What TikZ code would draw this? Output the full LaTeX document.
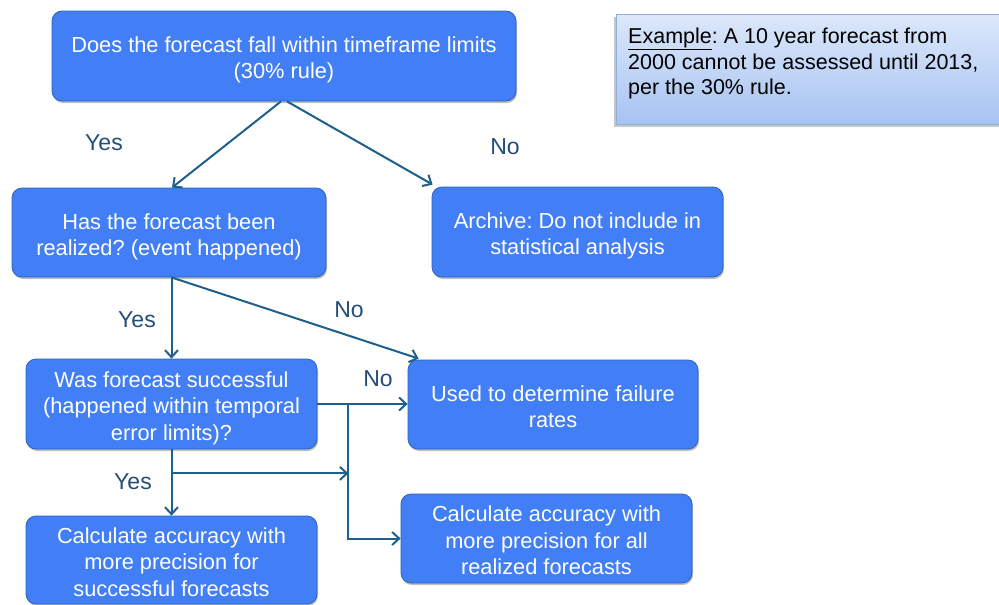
\documentclass[tikz,border=0pt]{standalone}
\usepackage{fontspec}
\setmainfont{Liberation Sans}
\usetikzlibrary{arrows.meta,shadows}
\frenchspacing
\definecolor{boxfill}{HTML}{427EF6}
\definecolor{boxdraw}{HTML}{2B65B8}
\definecolor{arrowcol}{HTML}{1F5F8E}
\definecolor{labelcol}{HTML}{234E7A}
\definecolor{extop}{HTML}{DCE8FB}
\definecolor{exbot}{HTML}{A7C3F1}
\definecolor{exdraw}{HTML}{8EAEDD}
\newcommand\bxtext[1]{\raisebox{-4.5pt}[\height][\depth]{\begin{tabular}{@{}c@{}}#1\end{tabular}}}
\tikzset{
  flowbox/.style={rectangle, rounded corners=10pt, fill=boxfill, draw=boxdraw, line width=0.8pt,
    text=white, align=center, inner sep=0pt,
    font=\fontsize{21.8}{26.3}\selectfont,
    drop shadow={shadow xshift=1pt, shadow yshift=-2pt, opacity=0.25, fill=black}},
  conn/.style={draw=arrowcol, line width=2pt, -{Straight Barb[length=7pt,width=13pt,line width=2pt]}},
  lbl/.style={text=labelcol, font=\fontsize{23}{27}\selectfont, inner sep=0pt}
}
\begin{document}
\begin{tikzpicture}[x=1pt,y=-1pt]
\useasboundingbox (0,0) rectangle (999,605);
\fill[white] (0,0) rectangle (999,605);

% example box
\fill[black, opacity=0.22] (614,17) rectangle (1010,127);
\shade[top color=extop, bottom color=exbot, draw=exdraw, line width=0.8pt] (616,14) rectangle (1010,124);
\node[anchor=north west, align=left, inner sep=0pt, font=\fontsize{21.5}{25.5}\selectfont] (ex) at (628,28)
  {\underline{Example}: A 10 year forecast from\\2000 cannot be assessed until 2013,\\per the 30\% rule.};

% boxes
\node[flowbox, minimum width=464pt, minimum height=90pt] (b1) at (284,56)
  {\bxtext{Does the forecast fall within timeframe limits\\(30\% rule)}};
\node[flowbox, minimum width=314pt, minimum height=89pt] (b2) at (169,232.5)
  {\bxtext{Has the forecast been\\realized? (event happened)}};
\node[flowbox, minimum width=291pt, minimum height=90pt] (b3) at (577.5,232)
  {\bxtext{Archive: Do not include in\\statistical analysis}};
\node[flowbox, minimum width=291pt, minimum height=90pt] (b4) at (171.5,404)
  {\bxtext{Was forecast successful\\(happened within temporal\\error limits)?}};
\node[flowbox, minimum width=290pt, minimum height=89pt] (b5) at (553,404.5)
  {\bxtext{Used to determine failure\\rates}};
\node[flowbox, minimum width=291pt, minimum height=88pt] (b6) at (171.5,560)
  {\bxtext{Calculate accuracy with\\more precision for\\successful forecasts}};
\node[flowbox, minimum width=291pt, minimum height=89pt] (b7) at (546.5,538.5)
  {\bxtext{Calculate accuracy with\\more precision for all\\realized forecasts}};

% connectors
\draw[conn] ([xshift=-3pt]b1.south) -- ([xshift=3pt]b2.north);
\draw[conn] ([xshift=3pt]b1.south) -- ([xshift=1pt,yshift=2pt]b3.north west);
\coordinate (s2) at (b4.north |- b2.south);
\draw[conn] (s2) -- (b4.north);
\draw[conn] (s2) -- ([xshift=11pt,yshift=1pt]b5.north west);
\draw[conn] (b4.east) -- (b4.east -| b5.west);
\coordinate (j) at ([xshift=31pt]b4.east);
\draw[conn] (j) |- (b7.west);
\draw[conn] (b4.south) -- (b6.north);
\coordinate (k) at ([yshift=-24pt]b4.south);
\draw[conn] (k) -- (k -| j);

% labels
\node[lbl] (y1) at (104,143) {Yes};
\node[lbl] (n1) at (505,147) {No};
\node[lbl] (y2) at (137,320) {Yes};
\node[lbl] (n2) at (349,310) {No};
\node[lbl] (n3) at (378,379) {No};
\node[lbl] (y3) at (133,482) {Yes};
\end{tikzpicture}
\end{document}
